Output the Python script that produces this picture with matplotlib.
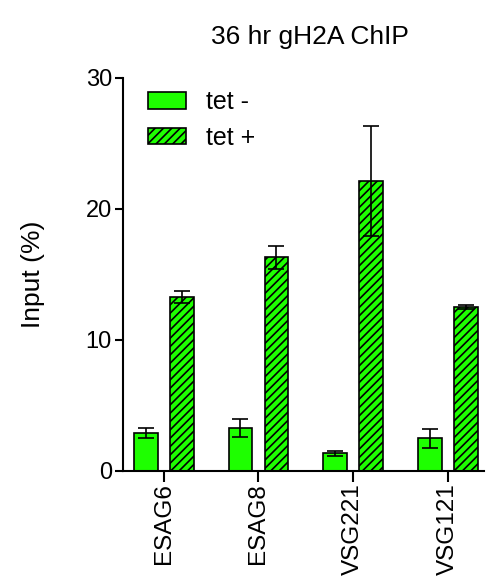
import matplotlib
matplotlib.use("Agg")
import matplotlib.pyplot as plt
import numpy as np

plt.rcParams['font.family'] = ['Liberation Sans', 'DejaVu Sans']
plt.rcParams['hatch.linewidth'] = 1.2

categories = ["ESAG6", "ESAG8", "VSG221", "VSG121"]
tet_minus = [2.9, 3.3, 1.35, 2.5]
tet_minus_err = [0.35, 0.7, 0.2, 0.72]
tet_plus = [13.3, 16.3, 22.1, 12.55]
tet_plus_err = [0.45, 0.9, 4.2, 0.15]
series_labels = ["tet -", "tet +"]
yticks = [0, 10, 20, 30]

green = "#1EFF00"

fig = plt.figure(figsize=(4.86, 5.8), dpi=100)
ax = fig.add_axes([0.253, 0.188, 0.743, 0.6776])

x = np.arange(len(categories))
w = 0.25
off = 0.19
ax.bar(x - off, tet_minus, w, color=green, edgecolor="black", linewidth=1.2,
       yerr=tet_minus_err, capsize=5.5, error_kw=dict(elinewidth=1.2, capthick=1.2),
       label=series_labels[0], zorder=2)
ax.bar(x + off, tet_plus, w, color=green, edgecolor="black", linewidth=1.2,
       hatch="////", yerr=tet_plus_err, capsize=5.5,
       error_kw=dict(elinewidth=1.2, capthick=1.2), label=series_labels[1], zorder=2)

ax.set_xlim(-0.43, 3.38)
ax.set_ylim(0, 30)
ax.set_yticks(yticks)
ax.set_xticks(x)
ax.set_xticklabels(categories, rotation=90, fontsize=17.5)
ax.tick_params(axis='y', labelsize=17, direction='out', length=6, width=1.5, pad=2)
ax.tick_params(axis='x', direction='out', length=8, width=1.5, pad=1)
for s in ['top', 'right']:
    ax.spines[s].set_visible(False)
for s in ['left', 'bottom']:
    ax.spines[s].set_linewidth(1.5)

ax.set_ylabel("Input (%)", fontsize=19, labelpad=29)
fig.text(0.637, 0.936, "36 hr gH2A ChIP", fontsize=19, ha='center', va='center')

leg = ax.legend(loc='upper left', bbox_to_anchor=(0.021, 1.013), frameon=False,
                fontsize=18, handlelength=1.52, handleheight=0.64,
                labelspacing=0.45, handletextpad=0.8, borderpad=0.2)

fig.savefig("out.png", dpi=100)
